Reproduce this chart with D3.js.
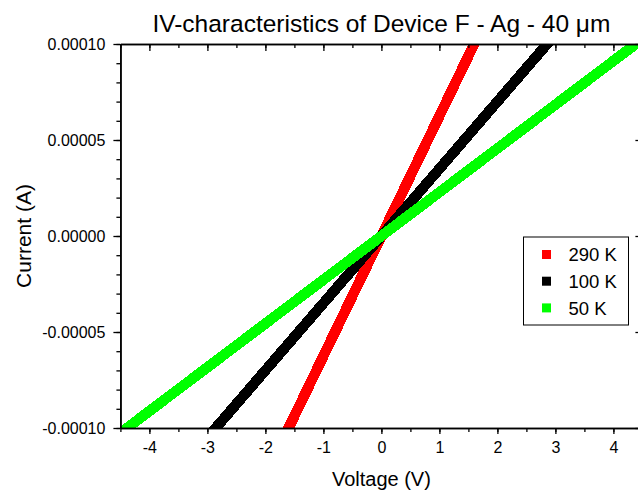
<!DOCTYPE html>
<html>
<head>
<meta charset="utf-8">
<script src="https://cdn.jsdelivr.net/npm/d3@7"></script>
<style>
  html, body { margin: 0; padding: 0; background: #fff; overflow: hidden; }
  svg { display: block; font-family: "Liberation Sans", Arial, sans-serif; }
</style>
</head>
<body>
<svg id="chart" width="638" height="490"></svg>
<script>
// Measured I-V data for Device F (Ag, 40 µm) at three temperatures
const seriesNames = ["290 K", "100 K", "50 K"];
const seriesColors = ["#ff0000", "#000000", "#00ff00"];

const voltage290 = [-2, -1, 0, 1, 2];
const current290 = [-1.25e-4, -6.25e-5, 0, 6.25e-5, 1.25e-4];

const voltage100 = [-3, -2, -1, 0, 1, 2, 3];
const current100 = [-1.05e-4, -7.0e-5, -3.5e-5, 0, 3.5e-5, 7.0e-5, 1.05e-4];

const voltage50 = [-4.5, -3, -1.5, 0, 1.5, 3, 4.5];
const current50 = [-1.026e-4, -6.84e-5, -3.42e-5, 0, 3.42e-5, 6.84e-5, 1.026e-4];

const xTicks = [-4, -3, -2, -1, 0, 1, 2, 3, 4];
const yTicks = [-1e-4, -5e-5, 0, 5e-5, 1e-4];
const yTickLabels = ["-0.00010", "-0.00005", "0.00000", "0.00005", "0.00010"];

const svg = d3.select("#chart");
const plotLeft = 120.4, plotRight = 642.4, plotTop = 44, plotBottom = 428;

const x = d3.scaleLinear().domain([-4.5, 4.5]).range([plotLeft, plotRight]);
const y = d3.scaleLinear().domain([-1e-4, 1e-4]).range([plotBottom, plotTop]);

svg.append("defs").append("clipPath").attr("id", "plot-clip")
  .append("rect").attr("x", plotLeft).attr("y", plotTop)
  .attr("width", plotRight - plotLeft).attr("height", plotBottom - plotTop);

// Data traces
const series = [
  { v: voltage290, i: current290 },
  { v: voltage100, i: current100 },
  { v: voltage50, i: current50 }
];
const line = d3.line().x(d => x(d[0])).y(d => y(d[1]));
const traces = svg.append("g").attr("clip-path", "url(#plot-clip)");
series.forEach((s, k) => {
  traces.append("path")
    .datum(s.v.map((v, j) => [v, s.i[j]]))
    .attr("d", line)
    .attr("fill", "none")
    .attr("stroke", seriesColors[k])
    .attr("stroke-width", 10.5)
    .attr("stroke-linecap", "butt")
    .attr("shape-rendering", "crispEdges");
});

// Axes
const minorX = d3.range(-4.5, 4.51, 0.5);
const minorY = d3.range(-1e-4, 1.0001e-4, 1e-5);

function styleAxis(g) {
  g.selectAll("path.domain").attr("stroke", "#000").attr("stroke-width", 1.5);
  g.selectAll(".tick line").attr("stroke", "#000").attr("stroke-width", 1.3);
  g.selectAll(".tick text").attr("fill", "#000").style("font-size", "16px")
    .style("font-family", "\"Liberation Sans\", Arial, sans-serif");
}

// bottom: minor ticks then labelled majors
svg.append("g").attr("transform", `translate(0,${plotBottom})`)
  .call(d3.axisBottom(x).tickValues(minorX).tickSize(4).tickSizeOuter(0).tickFormat(""))
  .call(styleAxis);
svg.append("g").attr("transform", `translate(0,${plotBottom})`)
  .call(d3.axisBottom(x).tickValues(xTicks).tickSize(6).tickSizeOuter(0).tickPadding(8)
    .tickFormat(d3.format("d")))
  .call(styleAxis)
  .call(g => g.selectAll(".tick text").text(d => d < 0 ? "-" + Math.abs(d) : d));

// top: inward ticks
svg.append("g").attr("transform", `translate(0,${plotTop})`)
  .call(d3.axisBottom(x).tickValues(minorX).tickSize(4).tickSizeOuter(0).tickFormat(""))
  .call(styleAxis);
svg.append("g").attr("transform", `translate(0,${plotTop})`)
  .call(d3.axisBottom(x).tickValues(xTicks).tickSize(7).tickSizeOuter(0).tickFormat(""))
  .call(styleAxis);

// left
svg.append("g").attr("transform", `translate(${plotLeft},0)`)
  .call(d3.axisLeft(y).tickValues(minorY).tickSize(4).tickSizeOuter(0).tickFormat(""))
  .call(styleAxis);
svg.append("g").attr("transform", `translate(${plotLeft},0)`)
  .call(d3.axisLeft(y).tickValues(yTicks).tickSize(7).tickSizeOuter(0).tickPadding(8)
    .tickFormat((d, i) => yTickLabels[i]))
  .call(styleAxis);

// right: inward ticks
svg.append("g").attr("transform", `translate(${plotRight},0)`)
  .call(d3.axisLeft(y).tickValues(minorY).tickSize(4).tickSizeOuter(0).tickFormat(""))
  .call(styleAxis);
svg.append("g").attr("transform", `translate(${plotRight},0)`)
  .call(d3.axisLeft(y).tickValues(yTicks).tickSize(7).tickSizeOuter(0).tickFormat(""))
  .call(styleAxis);

// Titles
svg.append("text")
  .attr("x", (plotLeft + plotRight) / 2).attr("y", 32)
  .attr("text-anchor", "middle")
  .style("font-size", "24.5px")
  .text("IV-characteristics of Device F - Ag - 40 μm");

svg.append("text")
  .attr("x", (plotLeft + plotRight) / 2).attr("y", 486)
  .attr("text-anchor", "middle")
  .style("font-size", "20px")
  .text("Voltage (V)");

svg.append("text")
  .attr("transform", `translate(31,${(plotTop + plotBottom) / 2}) rotate(-90)`)
  .attr("text-anchor", "middle")
  .style("font-size", "21px")
  .text("Current (A)");

// Legend
const legend = svg.append("g").attr("transform", "translate(523.5,237)");
legend.append("rect")
  .attr("width", 105).attr("height", 88)
  .attr("fill", "#fff").attr("stroke", "#000").attr("stroke-width", 1);
seriesNames.forEach((name, k) => {
  const row = legend.append("g").attr("transform", `translate(0,${17.5 + k * 26.7})`);
  row.append("rect")
    .attr("x", 18.5).attr("y", -4.5).attr("width", 9).attr("height", 9)
    .attr("fill", seriesColors[k]);
  row.append("text")
    .attr("x", 45).attr("y", 0).attr("dy", "0.36em")
    .style("font-size", "18.5px")
    .text(name);
});
</script>
</body>
</html>
